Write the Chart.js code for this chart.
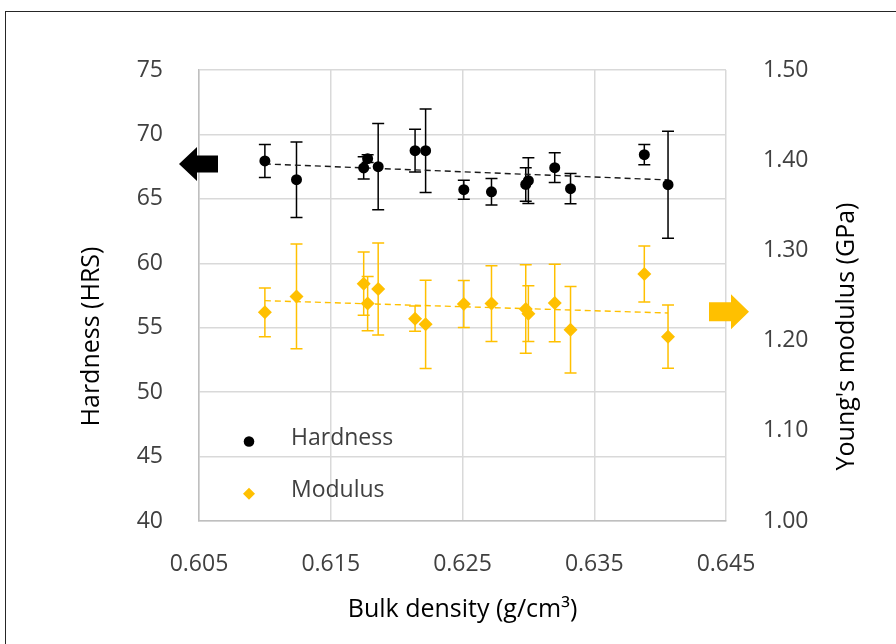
<!DOCTYPE html>
<html>
<head>
<meta charset="utf-8">
<script src="https://cdn.jsdelivr.net/npm/chart.js@4.4.1/dist/chart.umd.min.js"></script>
<style>
  body { margin: 0; background: #fff; }
  #wrap { position: relative; width: 896px; height: 644px; }
  #frame { position: absolute; left: 5px; top: 11px; width: 900px; height: 700px; border: 1px solid #262626; box-sizing: border-box; pointer-events: none; }
</style>
</head>
<body>
<div id="wrap">
  <canvas id="myChartOne"></canvas>
  <div id="frame"></div>
</div>
<script>
/* data */
const density = [0.6100, 0.6124, 0.6175, 0.6178, 0.6186, 0.6214, 0.6222, 0.6251, 0.6272, 0.6298, 0.6300, 0.6320, 0.6332, 0.6388, 0.6406];
const hardness = [67.94, 66.49, 67.40, 68.12, 67.50, 68.74, 68.74, 65.71, 65.55, 66.12, 66.41, 67.42, 65.79, 68.43, 66.10];
const hardnessErr = [1.28, 2.93, 0.86, 0.30, 3.35, 1.66, 3.24, 0.74, 1.03, 1.30, 1.78, 1.15, 1.17, 0.78, 4.15];
const modulus = [1.2313, 1.2490, 1.2631, 1.2410, 1.2573, 1.2243, 1.2180, 1.2406, 1.2410, 1.2351, 1.2299, 1.2417, 1.2121, 1.2739, 1.2044];
const modulusErr = [0.027, 0.058, 0.035, 0.030, 0.051, 0.014, 0.049, 0.026, 0.042, 0.049, 0.031, 0.043, 0.048, 0.031, 0.035];

/* linear trend lines (end points) */
const trendX = [0.6100, 0.6406];
const hardnessTrend = [67.71, 66.47];
const modulusTrend = [1.2443, 1.2306];

/* axes */
const xRange = [0.605, 0.645, 0.01];
const hardRange = [40, 75, 5];
const modRange = [1.0, 1.5, 0.1];
const seriesNames = ["Hardness", "Modulus"];
const axisTitles = ["Bulk density (g/cm³)", "Hardness (HRS)", "Young's modulus (GPa)"];

const BLACK = "#000000";
const ORANGE = "#FFC000";
const FONT = "'Open Sans', 'Noto Sans', sans-serif";

function pts(xs, ys) {
	let out = [];
	for (let i = 0; i < xs.length; i++) {
		out.push({ x: xs[i], y: ys[i] });
	}
	return out;
}

/* error bars under the points */
const errorBars = {
	id: "errorBars",
	beforeDatasetsDraw(chart) {
		const ctx = chart.ctx;
		const xs = chart.scales.x;
		const sets = [
			{ scale: chart.scales.y, vals: hardness, err: hardnessErr, color: BLACK },
			{ scale: chart.scales.y1, vals: modulus, err: modulusErr, color: ORANGE }
		];
		ctx.save();
		ctx.lineWidth = 1.5;
		sets.forEach(function(s) {
			ctx.strokeStyle = s.color;
			for (let i = 0; i < density.length; i++) {
				let px = xs.getPixelForValue(density[i]);
				let top = s.scale.getPixelForValue(s.vals[i] + s.err[i]);
				let bot = s.scale.getPixelForValue(s.vals[i] - s.err[i]);
				ctx.beginPath();
				ctx.moveTo(px, top); ctx.lineTo(px, bot);
				ctx.moveTo(px - 6, top); ctx.lineTo(px + 6, top);
				ctx.moveTo(px - 6, bot); ctx.lineTo(px + 6, bot);
				ctx.stroke();
			}
		});
		ctx.restore();
	}
};

/* arrows, legend and the y titles */
const extras = {
	id: "extras",
	afterDraw(chart) {
		const ctx = chart.ctx;
		const a = chart.chartArea;
		ctx.save();

		// black arrow -> left axis
		let yb = chart.scales.y.getPixelForValue(hardnessTrend[0]);
		ctx.fillStyle = BLACK;
		ctx.beginPath();
		ctx.moveTo(a.left - 20, yb);
		ctx.lineTo(a.left - 2, yb - 17);
		ctx.lineTo(a.left - 2, yb - 8.5);
		ctx.lineTo(a.left + 19, yb - 8.5);
		ctx.lineTo(a.left + 19, yb + 8.5);
		ctx.lineTo(a.left - 2, yb + 8.5);
		ctx.lineTo(a.left - 2, yb + 17);
		ctx.closePath();
		ctx.fill();

		// orange arrow -> right axis
		let yo = chart.scales.y1.getPixelForValue(1.232);
		ctx.fillStyle = ORANGE;
		ctx.beginPath();
		ctx.moveTo(a.right + 23, yo);
		ctx.lineTo(a.right + 5, yo - 17.5);
		ctx.lineTo(a.right + 5, yo - 9.5);
		ctx.lineTo(a.right - 17, yo - 9.5);
		ctx.lineTo(a.right - 17, yo + 9.5);
		ctx.lineTo(a.right + 5, yo + 9.5);
		ctx.lineTo(a.right + 5, yo + 17.5);
		ctx.closePath();
		ctx.fill();

		// legend inside the plot
		let lx = a.left + 50;
		let ly1 = chart.scales.y.getPixelForValue(46.4);
		let ly2 = chart.scales.y.getPixelForValue(42.35);
		ctx.fillStyle = BLACK;
		ctx.beginPath();
		ctx.arc(lx, ly1 + 3, 5.3, 0, Math.PI * 2);
		ctx.fill();
		ctx.fillStyle = ORANGE;
		ctx.beginPath();
		ctx.moveTo(lx, ly2 - 3);
		ctx.lineTo(lx + 6, ly2 + 3);
		ctx.lineTo(lx, ly2 + 9);
		ctx.lineTo(lx - 6, ly2 + 3);
		ctx.closePath();
		ctx.fill();
		ctx.fillStyle = "#404040";
		ctx.font = "23px " + FONT;
		ctx.textAlign = "left";
		ctx.textBaseline = "middle";
		ctx.fillText(seriesNames[0], lx + 42, ly1);
		ctx.fillText(seriesNames[1], lx + 42, ly2);

		// y titles, both reading upward
		let cy = (a.top + a.bottom) / 2 + 41;
		ctx.fillStyle = BLACK;
		ctx.font = "500 25px " + FONT;
		ctx.textAlign = "center";
		ctx.save();
		ctx.translate(a.left - 107, cy);
		ctx.rotate(-Math.PI / 2);
		ctx.fillText(axisTitles[1], 0, 0);
		ctx.restore();
		ctx.save();
		ctx.translate(a.right + 121, cy);
		ctx.rotate(-Math.PI / 2);
		ctx.fillText(axisTitles[2], 0, 0);
		ctx.restore();

		ctx.restore();
	}
};

const myChartOne = document.getElementById("myChartOne").getContext("2d");

const scatterChart = new Chart(myChartOne, {
	type: "scatter",
	data: {
		datasets: [
			{
				label: seriesNames[0],
				data: pts(density, hardness),
				yAxisID: "y",
				pointStyle: "circle",
				pointRadius: 5.5,
				backgroundColor: BLACK,
				borderColor: BLACK,
				borderWidth: 0
			},
			{
				label: seriesNames[1],
				data: pts(density, modulus),
				yAxisID: "y1",
				pointStyle: "rectRot",
				pointRadius: 7,
				backgroundColor: ORANGE,
				borderColor: ORANGE,
				borderWidth: 0
			},
			{
				label: "Hardness trend",
				data: pts(trendX, hardnessTrend),
				yAxisID: "y",
				showLine: true,
				pointRadius: 0,
				borderColor: "#1a1a1a",
				borderWidth: 1.4,
				borderDash: [6, 4]
			},
			{
				label: "Modulus trend",
				data: pts(trendX, modulusTrend),
				yAxisID: "y1",
				showLine: true,
				pointRadius: 0,
				borderColor: ORANGE,
				borderWidth: 1.4,
				borderDash: [6, 4]
			}
		]
	},
	options: {
		responsive: true,
		maintainAspectRatio: false,
		animation: false,
		layout: { padding: { top: 70, left: 0, right: 0, bottom: 0 } },
		plugins: {
			legend: { display: false },
			tooltip: { enabled: false }
		},
		scales: {
			x: {
				type: "linear",
				min: xRange[0],
				max: xRange[1],
				afterFit: function(scale) { scale.height = 123; },
				ticks: {
					stepSize: xRange[2],
					padding: 30,
					color: "#404040",
					font: { family: FONT, size: 23 },
					callback: function(v) { return v.toFixed(3); }
				},
				grid: { color: "#d9d9d9", lineWidth: 1.5, drawTicks: false },
				border: { color: "#bfbfbf", width: 1.5 },
				title: {
					display: true,
					text: axisTitles[0],
					color: BLACK,
					font: { family: FONT, size: 25, weight: 500 },
					padding: { top: 0, bottom: 19 }
				}
			},
			y: {
				position: "left",
				min: hardRange[0],
				max: hardRange[1],
				afterFit: function(scale) { scale.width = 199; },
				ticks: {
					stepSize: hardRange[2],
					padding: 36,
					color: "#404040",
					font: { family: FONT, size: 23 }
				},
				grid: { color: "#d9d9d9", lineWidth: 1.5, drawTicks: false },
				border: { color: "#bfbfbf", width: 1.5 }
			},
			y1: {
				position: "right",
				min: modRange[0],
				max: modRange[1],
				afterFit: function(scale) { scale.width = 170; },
				ticks: {
					stepSize: modRange[2],
					padding: 37,
					color: "#404040",
					font: { family: FONT, size: 23 },
					callback: function(v) { return v.toFixed(2); }
				},
				grid: { display: false, drawTicks: false },
				border: { display: false }
			}
		}
	},
	plugins: [errorBars, extras]
});
</script>
</body>
</html>
